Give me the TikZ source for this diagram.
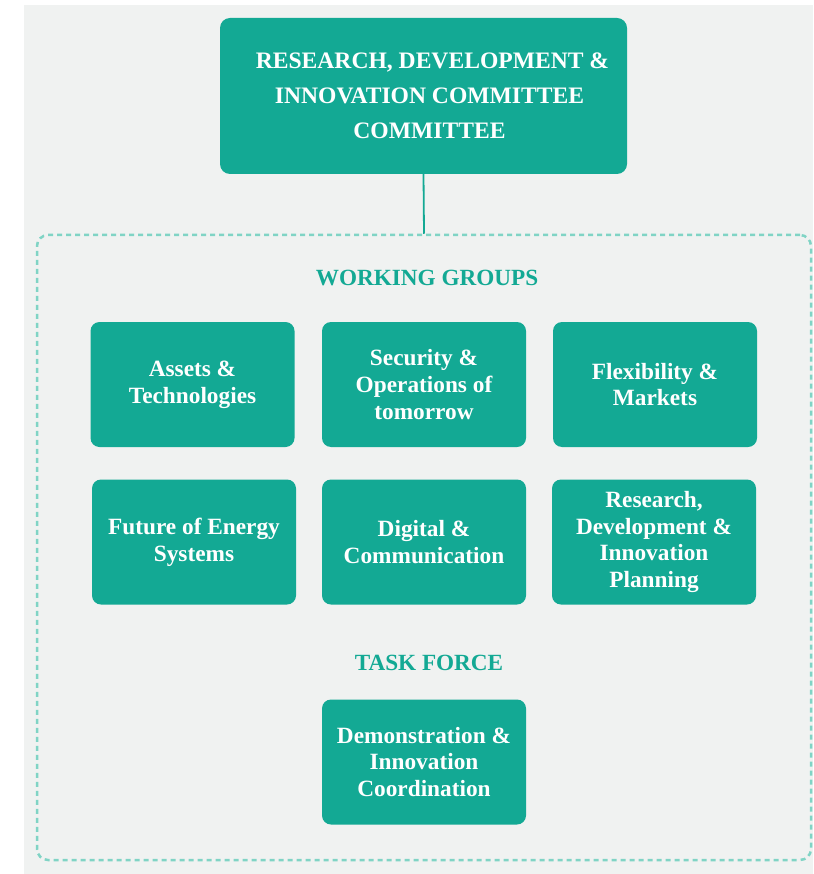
\documentclass[tikz,border=0pt]{standalone}
\usepackage{fontspec}
\setmainfont{Liberation Serif}
\definecolor{teal1}{RGB}{19,169,148}
\definecolor{dashteal}{RGB}{128,212,197}
\definecolor{bggray}{RGB}{240,242,241}
\begin{document}
\begin{tikzpicture}[x=1pt,y=-1pt,
  groupbox/.style={fill=teal1, rounded corners=9pt, minimum width=204pt, minimum height=125pt,
    inner sep=0pt, text=white, align=center, font=\fontsize{23.3}{26.8}\selectfont\bfseries},
  heading/.style={text=teal1, font=\fontsize{23.2}{26.5}\selectfont\bfseries, inner sep=0pt},
]
\useasboundingbox (0,0) rectangle (813,874);
\fill[bggray] (24,5) rectangle (813,874);
\node[draw=dashteal, line width=2.5pt, dash pattern=on 5pt off 4pt, rounded corners=11pt,
  minimum width=774pt, minimum height=625pt, inner sep=0pt] (wg) at (424,547.5) {};
\node[fill=teal1, rounded corners=10pt, minimum width=407pt, minimum height=156pt, inner sep=0pt,
  text=white, align=center, font=\fontsize{23.6}{35}\selectfont\bfseries] (top) at (423.5,96)
  {\hspace*{18pt}RESEARCH, DEVELOPMENT \&\\\hspace*{12pt}INNOVATION COMMITTEE\\\hspace*{12pt}COMMITTEE};
\draw[teal1, line width=1.8pt] (top.south) -- (wg.north);
\node[heading] (wgh) at (427,278) {WORKING GROUPS};
\node[groupbox] (g1) at (192.5,384.5) {Assets \&\\Technologies};
\node[groupbox] (g2) at (424,384.5) {Security \&\\Operations of\\tomorrow};
\node[groupbox] (g3) at (655,384.5) {Flexibility \&\\Markets};
\node[groupbox] (g4) at (194,542) {Future of Energy\\Systems};
\node[groupbox] (g5) at (424,542) {Digital \&\\Communication};
\node[groupbox] (g6) at (654,542) {Research,\\Development \&\\Innovation\\Planning};
\node[heading] (tfh) at (429,663) {TASK FORCE};
\node[groupbox] (t1) at (424,762) {Demonstration \&\\Innovation\\Coordination};
\end{tikzpicture}
\end{document}
